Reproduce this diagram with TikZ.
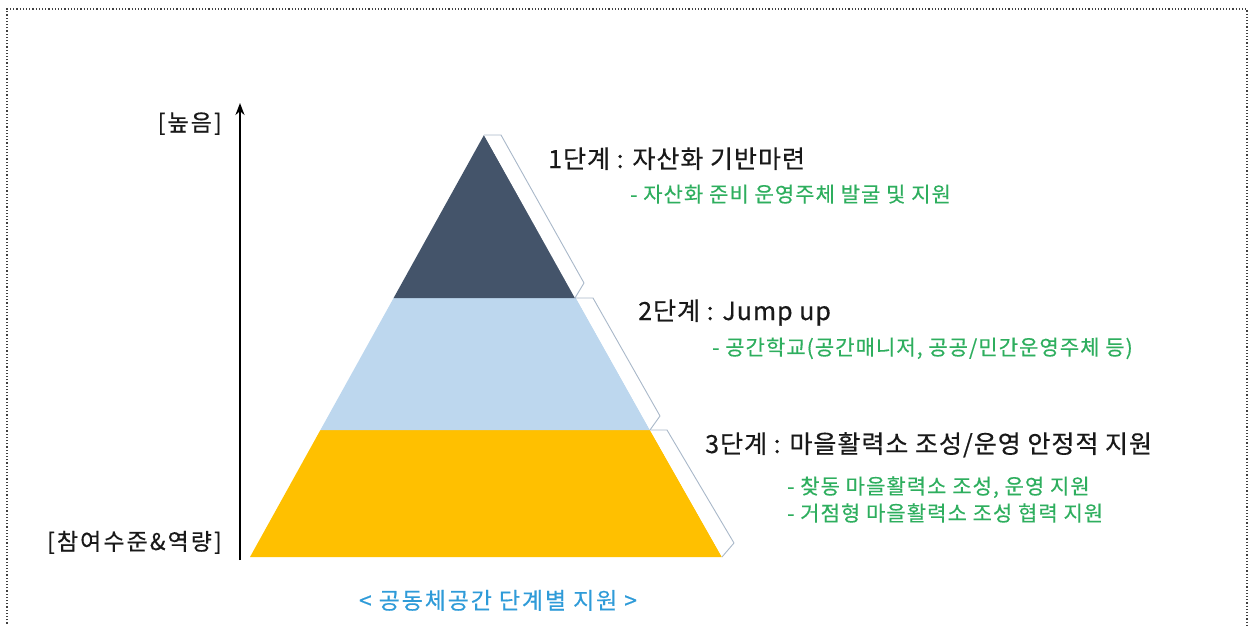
\documentclass[tikz,border=0pt]{standalone}
\usepackage{fontspec}
\setmainfont{Noto Sans CJK KR}[FakeBold=0.4]
\usetikzlibrary{arrows.meta}
\definecolor{tierdark}{HTML}{44546A}
\definecolor{tierlight}{HTML}{BDD7EE}
\definecolor{tieryellow}{HTML}{FFC000}
\definecolor{stripline}{HTML}{A9B8C9}
\definecolor{subgreen}{HTML}{2EAE5E}
\definecolor{capblue}{HTML}{2F9BD8}
\tikzset{
  strip/.style={draw=stripline, fill=white, line width=0.9pt, line join=round},
  stagetext/.style={anchor=base west, inner sep=0pt, font=\fontsize{25}{29}\selectfont\addfontfeature{LetterSpace=4}, text=black!90},
  subtext/.style={anchor=base west, inner sep=0pt, font=\fontsize{21}{25}\selectfont\addfontfeature{LetterSpace=5}, text=subgreen},
  axislabel/.style={anchor=base east, inner sep=0pt, font=\fontsize{23}{27}\selectfont\addfontfeature{LetterSpace=9}, text=black!90},
}
\begin{document}
\begin{tikzpicture}[x=1pt,y=-1pt]
\useasboundingbox (0,0) rectangle (1256,626);
% dotted frame
\draw[black!75, line width=1.2pt, dotted] (7,630) -- (7,9) -- (1247,9) -- (1247,630);
% pyramid tiers
\fill[tieryellow] (320.4,430) -- (650,430) -- (722,557) -- (250,557) -- cycle;
\fill[tierlight] (393.6,298) -- (576,298) -- (650,430) -- (320.4,430) -- cycle;
\fill[tierdark] (484,135) -- (576,298) -- (393.6,298) -- cycle;
% side strips
\draw[strip] (484,135) -- (501,135) -- (584,283) -- (575,298);
\draw[strip] (576,298) -- (593,298) -- (660,416) -- (650,430);
\draw[strip] (650,430) -- (667,430) -- (734,543) -- (722,557);
% axis
\coordinate (axbot) at (240,560);
\coordinate (axtop) at (240,103);
\draw[line width=2.2pt, -{Stealth[length=12pt,width=9pt]}] (axbot) -- (axtop);
\node[axislabel] (high) at (222,131) {[높음]};
\node[axislabel] (level) at (222,550) {[참여수준\&역량]};
% stage texts
\node[stagetext] (s1) at (548,168) {1단계 : 자산화 기반마련};
\node[subtext] (s1a) at (630,202) {- 자산화 준비 운영주체 발굴 및 지원};
\node[stagetext] (s2) at (638,320) {2단계 : Jump up};
\node[subtext] (s2a) at (712,355) {- 공간학교(공간매니저, 공공/민간운영주체 등)};
\node[stagetext] (s3) at (705,453) {3단계 : 마을활력소 조성/운영 안정적 지원};
\node[subtext] (s3a) at (787,494) {- 찾동 마을활력소 조성, 운영 지원};
\node[subtext] (s3b) at (787,521) {- 거점형 마을활력소 조성 협력 지원};
% caption
\node[anchor=base, inner sep=0pt, font=\fontsize{23}{27}\selectfont\addfontfeature{LetterSpace=8}, text=capblue] (cap) at (498,609) {< 공동체공간 단계별 지원 >};
\end{tikzpicture}
\end{document}
